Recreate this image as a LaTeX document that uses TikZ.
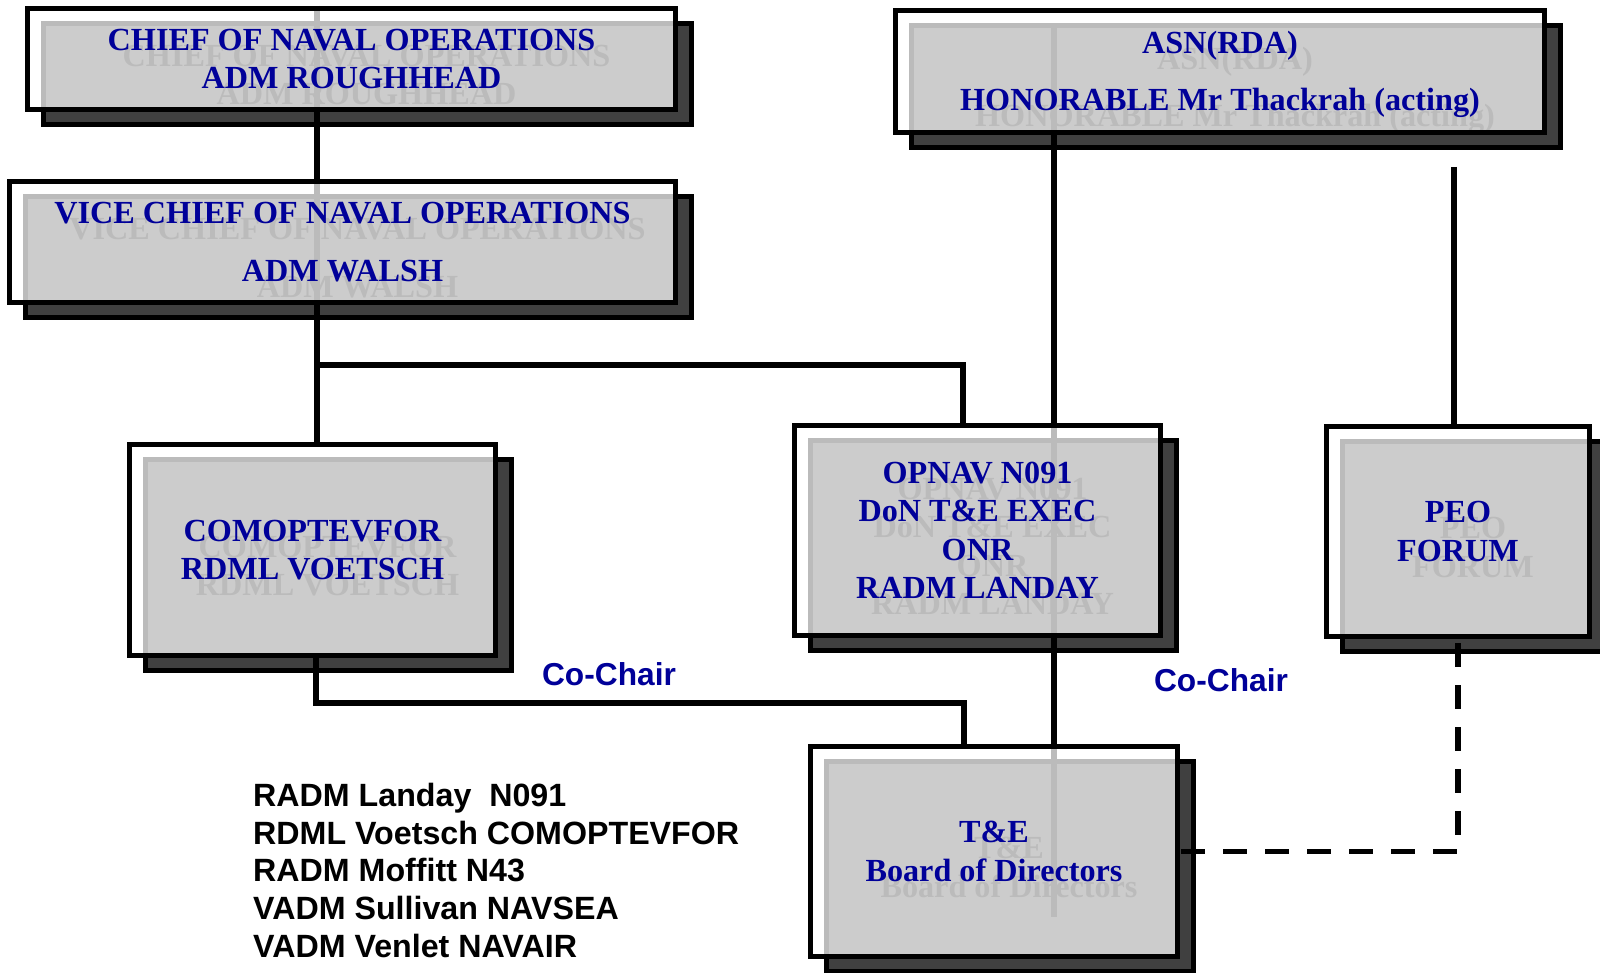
\documentclass[tikz,border=0pt]{standalone}
\usepackage{fontspec}
\newfontfamily\tnr{Liberation Serif}
\newfontfamily\arl{Liberation Sans}[Ligatures=CommonOff]
\pgfdeclarelayer{shad}\pgfdeclarelayer{ghost}\pgfdeclarelayer{lines}
\pgfsetlayers{shad,ghost,lines,main}
\definecolor{navyblue}{RGB}{0,0,153}
\definecolor{shgray}{RGB}{64,64,64}
\newcommand\lw{5.4}
\newcommand\boxfont{\tnr\bfseries\fontsize{32.2}{38.5}\selectfont}
\newcommand\sansfnt{\arl\bfseries\fontsize{32.2}{37.8}\selectfont}
\newcommand\labfnt{\arl\bfseries\fontsize{31.7}{37.8}\selectfont}
\tikzset{
  shadowbox/.style={draw=black, line width=\lw pt, fill=shgray, inner sep=0pt},
  ghosttext/.style={font=\boxfont, text=black, align=center, inner sep=0pt, text depth=0pt},
  framebox/.style={draw=black, line width=\lw pt, fill=white, fill opacity=0.735, text opacity=1, text=navyblue, font=\boxfont, align=center, inner sep=0pt, text depth=0pt},
  conn/.style={draw=black, line width=\lw pt},
  dashconn/.style={conn, dash pattern=on 24pt off 18pt},
  labeltext/.style={font=\labfnt, text=navyblue, inner sep=0pt, text height=22.7pt, text depth=0pt},
  listtext/.style={font=\sansfnt, text=black, align=left, inner sep=0pt, text depth=0pt},
}
\newcommand\obox[7]{%
  \pgfmathsetmacro\bcx{(#2+#4)/2}%
  \pgfmathsetmacro\bcy{(#3+#5)/2}%
  \pgfmathsetmacro\bw{#4-#2-\lw}%
  \pgfmathsetmacro\bh{#5-#3-\lw}%
  \pgfmathsetmacro\bth{21.1+#6}%
  \begin{pgfonlayer}{shad}
    \node[shadowbox, minimum width=\bw pt, minimum height=\bh pt] (#1-sh) at ({\bcx+16},{\bcy+15}) {};
  \end{pgfonlayer}
  \begin{pgfonlayer}{ghost}
    \node[ghosttext, text height=\bth pt] (#1-gh) at ({\bcx+15},{\bcy+16}) {#7};
  \end{pgfonlayer}
  \node[framebox, minimum width=\bw pt, minimum height=\bh pt, text height=\bth pt] (#1) at (\bcx,\bcy) {#7};
}
\begin{document}
\begin{tikzpicture}[x=1pt,y=-1pt]
\useasboundingbox (0,0) rectangle (1600,973);

\obox{cno}{25}{6}{678}{112}{38.5}{CHIEF OF NAVAL OPERATIONS\\ADM ROUGHHEAD}
\obox{vcno}{7}{179}{678}{305}{58}{VICE CHIEF OF NAVAL OPERATIONS\\[19.5pt]ADM WALSH}
\obox{asn}{893}{8}{1547}{135}{57}{ASN(RDA)\\[18.5pt]HONORABLE Mr Thackrah (acting)}
\obox{comop}{127}{442}{498}{658}{38.5}{COMOPTEVFOR\\RDML VOETSCH}
\obox{opnav}{792}{423}{1163}{638}{115.5}{OPNAV N091\\DoN T\&E EXEC\\ONR\\RADM LANDAY}
\obox{peo}{1324}{424}{1592}{639}{38.5}{PEO\\FORUM}
\obox{te}{808}{744}{1180}{959}{38.5}{T\&E\\Board of Directors}

\begin{pgfonlayer}{lines}
  \coordinate (xL) at (317,0);
  \coordinate (j1) at (317,365);
  \coordinate (j2) at (963,365);
  \coordinate (rt) at (1054,28);
  \coordinate (rb) at (1054,917);
  \coordinate (pt) at (1454,167);
  \coordinate (c1) at (316,703);
  \coordinate (c2) at (964,703);
  \coordinate (d1) at (1458,643);
  \draw[conn] (cno.north -| xL) -- (comop.north -| xL);
  \draw[conn] (j1) -- (j2) -- (j2 |- opnav.north);
  \draw[conn] (rt) -- (rb);
  \draw[conn] (pt) -- (pt |- peo.north);
  \draw[conn] (comop.south -| c1) -- (c1) -- (c2) -- (c2 |- te.north);
  \draw[dashconn] (d1) |- (te.east);
\end{pgfonlayer}

\node[labeltext] (cc1) at (609,674) {Co-Chair};
\node[labeltext] (cc2) at (1221,680) {Co-Chair};
\node[listtext, anchor=north west, text height=174.3pt] (list) at (253,783) {RADM Landay\ \ N091\\RDML Voetsch COMOPTEVFOR\\RADM Moffitt N43\\VADM Sullivan NAVSEA\\VADM Venlet NAVAIR};
\end{tikzpicture}
\end{document}
